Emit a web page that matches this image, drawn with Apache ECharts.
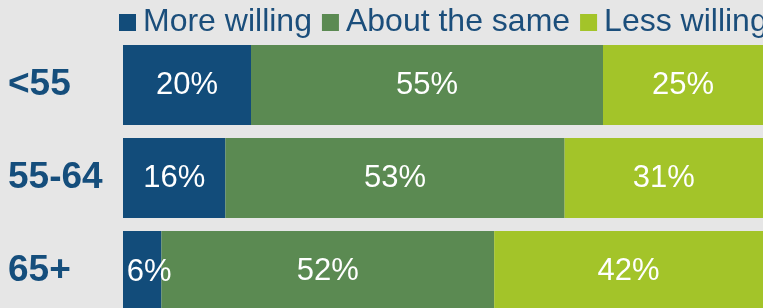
<!DOCTYPE html>
<html>
<head>
<meta charset="utf-8">
<script src="https://cdn.jsdelivr.net/npm/echarts@6/dist/echarts.min.js"></script>
<style>
  html, body { margin: 0; padding: 0; background: #e6e6e6; overflow: hidden; }
  #chart { width: 763px; height: 330px; }
</style>
</head>
<body>
<div id="chart"></div>
<script>
// 年龄分组
const categories = ['<55', '55-64', '65+']
const seriesNames = ['More willing', 'About the same', 'Less willing']
const moreWilling = [20, 16, 6]
const aboutSame = [55, 53, 52]
const lessWilling = [25, 31, 42]

const colors = ['#124c7a', '#5b8a52', '#a3c429']
const font = '"Liberation Sans", Arial, sans-serif'

const chart = echarts.init(document.getElementById('chart'))

const makeSeries = (name, data) => ({
    name: name,
    type: 'bar',
    stack: 'total',
    barWidth: 80,
    // 窄段的标签稍微右移
    data: data.map(v => v < 10 ? { value: v, label: { offset: [7, 1] } } : v),
    label: {
        show: true,
        position: 'inside',
        color: '#ffffff',
        fontFamily: font,
        fontSize: 31,
        formatter: p => p.value + '%'
    }
})

chart.setOption({
    backgroundColor: '#e6e6e6',
    color: colors,
    animation: false,
    legend: {
        left: 119,
        top: 5,
        width: 760,
        padding: 0,
        itemWidth: 17,
        itemHeight: 17,
        itemGap: 10,
        icon: 'rect',
        textStyle: {
            color: '#1b4e7b',
            fontFamily: font,
            fontSize: 32,
            lineHeight: 35,
            padding: [0, 0, 0, 2]
        },
        data: seriesNames
    },
    // 第三行柱子在画面底部被截断
    grid: {
        left: 123,
        right: 0,
        top: 38.5,
        height: 279,
        containLabel: false
    },
    xAxis: {
        type: 'value',
        min: 0,
        max: 100,
        show: false
    },
    yAxis: {
        type: 'category',
        inverse: true,
        data: categories,
        axisLine: { show: false },
        axisTick: { show: false },
        axisLabel: {
            align: 'left',
            margin: 115,
            color: '#154e7c',
            fontFamily: font,
            fontWeight: 'bold',
            fontSize: 37
        }
    },
    series: [
        makeSeries(seriesNames[0], moreWilling),
        makeSeries(seriesNames[1], aboutSame),
        makeSeries(seriesNames[2], lessWilling)
    ]
})
</script>
</body>
</html>
